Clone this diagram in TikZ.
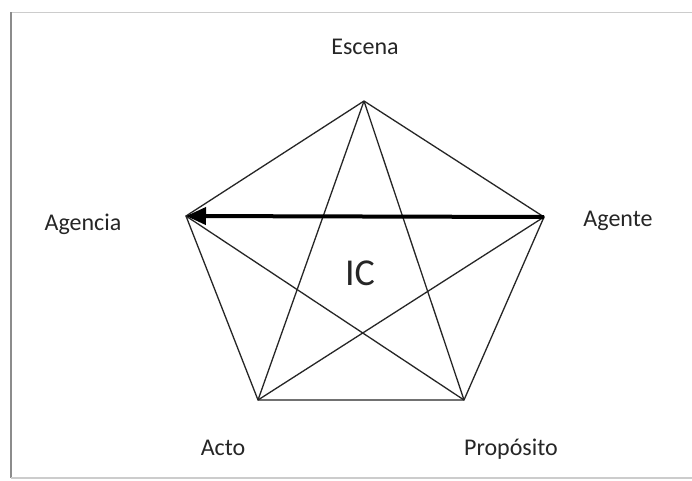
\documentclass[tikz,border=0pt]{standalone}
\usepackage{fontspec}
\setmainfont{Carlito}
\usetikzlibrary{arrows.meta}
\begin{document}
\begin{tikzpicture}[x=1pt,y=-1pt,
  edge/.style={line width=1.3pt,black!85},
  lbl/.style={font=\fontsize{24}{28}\selectfont,text=black!85,inner sep=0pt,anchor=base}]
\useasboundingbox (0,0) rectangle (692,480);
\fill[white] (0,0) rectangle (692,480);
% frame
\draw[black!20,line width=1.2pt] (11,12.5) -- (692,12.5);
\draw[black!45,line width=1.8pt] (11,12) -- (11,478);
\draw[black!20,line width=1.2pt] (11,478) -- (692,478);
% vertices
\coordinate (E) at (364,101);
\coordinate (G) at (544,217);
\coordinate (A) at (186,216);
\coordinate (T) at (258,400);
\coordinate (P) at (464,400);
% pentagon
\draw[edge] (E) -- (G) -- (P) -- (T) -- (A) -- (E);
% star
\draw[edge] (E) -- (T);
\draw[edge] (E) -- (P);
\draw[edge] (G) -- (T);
\draw[edge] (A) -- (P);
% arrow
\draw[line width=4pt,-{Triangle[length=20pt,width=17pt]}] (G) -- (A);
% labels
\node[lbl] (lE) at (365,54) {Escena};
\node[lbl] (lA) at (83,230) {Agencia};
\node[lbl] (lG) at (618,226) {Agente};
\node[lbl] (lT) at (223,455) {Acto};
\node[lbl] (lP) at (511,455) {Propósito};
\node[lbl,font=\fontsize{38}{42}\selectfont] (ic) at (360,285) {IC};
\end{tikzpicture}
\end{document}
